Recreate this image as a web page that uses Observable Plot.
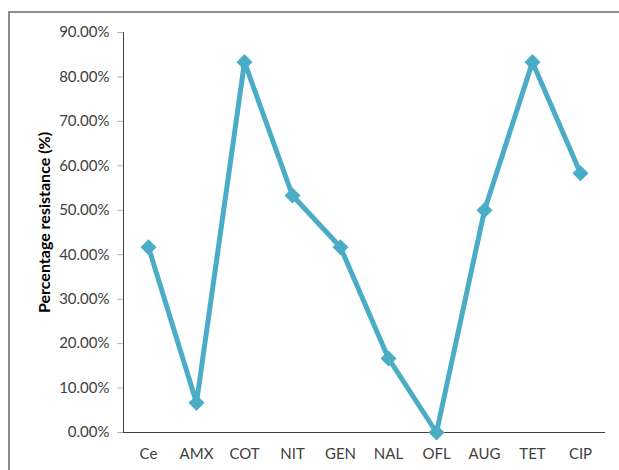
<!DOCTYPE html>
<html><head><meta charset="utf-8">
<script src="https://cdn.jsdelivr.net/npm/d3@7"></script>
<script src="https://cdn.jsdelivr.net/npm/@observablehq/plot@0.6"></script>
<style>
body{margin:0;background:#fff;}
#wrap{position:relative;width:619px;height:470px;overflow:hidden;}
#frame{position:absolute;left:8px;top:11px;width:700px;height:600px;border:2px solid #8c8c8c;box-sizing:border-box;pointer-events:none;}
</style>
</head><body>
<div id="wrap"><div id="frame"></div></div>
<script>
const antibiotics = ["Ce","AMX","COT","NIT","GEN","NAL","OFL","AUG","TET","CIP"];
const resistance = [0.4167,0.0667,0.8333,0.5333,0.4167,0.1667,0.0,0.50,0.8333,0.5833];
const yTicks = [0,0.1,0.2,0.3,0.4,0.5,0.6,0.7,0.8,0.9];

const data = antibiotics.map((a,i)=>({drug:a, value:resistance[i]}));
const color = "#4bacc6";

const chart = Plot.plot({
  width: 619, height: 470,
  marginLeft: 123, marginRight: 15, marginTop: 32, marginBottom: 38,
  style: {fontFamily: "Lato, 'Open Sans', sans-serif", fontSize: "15px", color: "#404040", background: "transparent"},
  x: {type: "point", domain: antibiotics, padding: 0.5, label: null, tickSize: 0, tickPadding: 16, line: true},
  y: {domain: [0, 0.9], ticks: yTicks, tickFormat: d3.format(".2%"), tickSize: 6, tickPadding: 8, label: null, line: true},
  marks: [
    Plot.line(data, {x: "drug", y: "value", stroke: color, strokeWidth: 5}),
    Plot.dot(data, {x: "drug", y: "value", symbol: "square", r: 6.4, rotate: 45, fill: color, stroke: null}),
    Plot.text(["Percentage resistance (%)"], {frameAnchor: "left", textAnchor: "middle", dx: -79, dy: -10, rotate: -90, text: d => d, fontWeight: "bold", fontSize: 16, fill: "#000"})
  ]
});
chart.style.position = "absolute";
chart.style.left = "0"; chart.style.top = "0";
chart.querySelectorAll("[aria-label='x-axis line'], [aria-label='y-axis line'], [aria-label='y-axis tick']").forEach(e=>e.setAttribute("stroke","#b4b4b4"));
document.getElementById("wrap").prepend(chart);
</script>
</body></html>
